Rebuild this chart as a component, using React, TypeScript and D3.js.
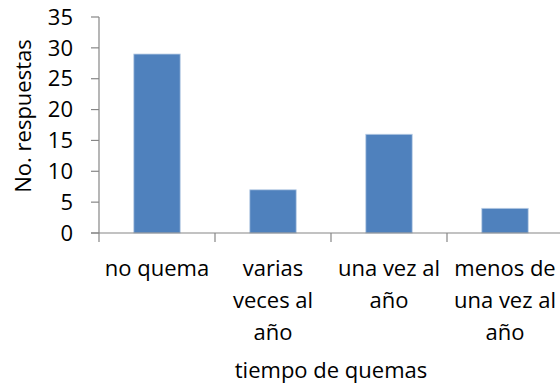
import React, { useEffect, useRef } from 'react';
import * as d3 from 'd3';

const categories = ['no quema', 'varias veces al año', 'una vez al año', 'menos de una vez al año'];
const categoryLines = [
  ['no quema'],
  ['varias', 'veces al', 'año'],
  ['una vez al', 'año'],
  ['menos de', 'una vez al', 'año'],
];
const values = [29, 7, 16, 4];
const yTicks = [0, 5, 10, 15, 20, 25, 30, 35];
const xTitle = 'tiempo de quemas';
const yTitle = 'No. respuestas';

const App: React.FC = () => {
  const svgRef = useRef<SVGSVGElement>(null);
  const width = 560;
  const height = 387;

  useEffect(() => {
    if (!svgRef.current) return;
    const svg = d3.select(svgRef.current);
    svg.selectAll('*').remove();

    const font = "'Open Sans', sans-serif";
    const fontSize = 22;
    const axisColor = '#868686';

    const x = d3.scaleBand<string>()
      .domain(categories)
      .range([99, 563])
      .paddingInner(0.6)
      .paddingOuter(0.3);

    const y = d3.scaleLinear()
      .domain([0, 35])
      .range([233, 17]);

    // bars
    svg.append('g')
      .selectAll('rect')
      .data(values)
      .join('rect')
      .attr('x', (_, i) => x(categories[i])!)
      .attr('y', d => y(d))
      .attr('width', x.bandwidth())
      .attr('height', d => y(0) - y(d))
      .attr('fill', '#4F81BD')
      .attr('stroke', '#B9CDE5')
      .attr('stroke-width', 0.8);

    // y axis
    const yAxis = svg.append('g');
    yAxis.append('line')
      .attr('x1', 99).attr('x2', 99)
      .attr('y1', y(35)).attr('y2', y(0))
      .attr('stroke', axisColor).attr('stroke-width', 1.2);
    yAxis.selectAll('line.tick')
      .data(yTicks)
      .join('line')
      .attr('class', 'tick')
      .attr('x1', 91).attr('x2', 99)
      .attr('y1', d => y(d)).attr('y2', d => y(d))
      .attr('stroke', axisColor).attr('stroke-width', 1.2);
    yAxis.selectAll('text')
      .data(yTicks)
      .join('text')
      .attr('x', 73)
      .attr('y', d => y(d))
      .attr('dy', '0.35em')
      .attr('text-anchor', 'end')
      .attr('font-family', font)
      .attr('font-size', fontSize)
      .attr('fill', '#000')
      .text(d => d);

    // x axis
    const step = x.step();
    const xAxis = svg.append('g');
    xAxis.append('line')
      .attr('x1', 91).attr('x2', 563)
      .attr('y1', y(0)).attr('y2', y(0))
      .attr('stroke', axisColor).attr('stroke-width', 1.2);
    xAxis.selectAll('line.tick')
      .data(d3.range(categories.length + 1))
      .join('line')
      .attr('class', 'tick')
      .attr('x1', i => 99 + i * step).attr('x2', i => 99 + i * step)
      .attr('y1', y(0)).attr('y2', y(0) + 9)
      .attr('stroke', axisColor).attr('stroke-width', 1.2);

    categoryLines.forEach((lines, i) => {
      const cx = x(categories[i])! + x.bandwidth() / 2;
      lines.forEach((line, j) => {
        xAxis.append('text')
          .attr('x', cx)
          .attr('y', 276 + j * 32)
          .attr('text-anchor', 'middle')
          .attr('font-family', font)
          .attr('font-size', fontSize)
          .attr('fill', '#000')
          .text(line);
      });
    });

    // titles
    svg.append('text')
      .attr('x', 331)
      .attr('y', 378)
      .attr('text-anchor', 'middle')
      .attr('font-family', font)
      .attr('font-size', fontSize)
      .attr('fill', '#000')
      .text(xTitle);

    svg.append('text')
      .attr('transform', 'translate(31,116) rotate(-90)')
      .attr('text-anchor', 'middle')
      .attr('font-family', font)
      .attr('font-size', fontSize)
      .attr('fill', '#000')
      .text(yTitle);
  }, []);

  return (
    <svg
      ref={svgRef}
      width={width}
      height={height}
      viewBox={`0 0 ${width} ${height}`}
      style={{ position: 'absolute', left: 0, top: 0, background: '#fff' }}
    />
  );
};

export default App;
